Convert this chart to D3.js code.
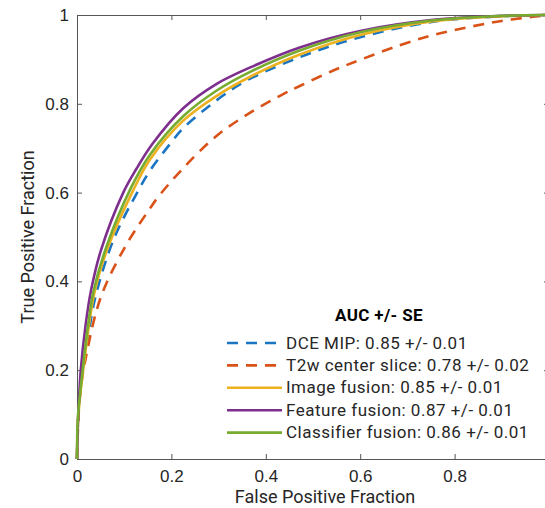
<!DOCTYPE html>
<html>
<head>
<meta charset="utf-8">
<script src="https://cdn.jsdelivr.net/npm/d3@7"></script>
<style>
  body { margin: 0; background: #fff; }
  svg { display: block; font-family: Roboto, "Noto Sans", sans-serif; }
</style>
</head>
<body>
<svg id="chart" width="545" height="508"></svg>
<script>
// ROC curves (fpr, tpr pairs)
const dceFpr  = [0, 0.003, 0.012, 0.025, 0.039, 0.077, 0.130, 0.155, 0.199, 0.225, 0.296, 0.355, 0.472, 0.6, 0.755, 0.896, 1];
const dceTpr  = [0, 0.10, 0.20, 0.285, 0.365, 0.493, 0.605, 0.650, 0.712, 0.745, 0.808, 0.850, 0.905, 0.950, 0.985, 0.997, 1];

const t2wFpr  = [0, 0.006, 0.019, 0.051, 0.102, 0.155, 0.174, 0.225, 0.296, 0.367, 0.437, 0.472, 0.543, 0.6, 0.684, 0.755, 0.826, 0.896, 0.966, 1];
const t2wTpr  = [0, 0.14, 0.23, 0.366, 0.478, 0.565, 0.593, 0.655, 0.728, 0.780, 0.822, 0.840, 0.875, 0.899, 0.932, 0.955, 0.972, 0.986, 0.996, 1];

const imgFpr  = [0, 0.003, 0.013, 0.037, 0.065, 0.119, 0.155, 0.225, 0.296, 0.367, 0.472, 0.6, 0.755, 0.896, 1];
const imgTpr  = [0, 0.10, 0.20, 0.375, 0.475, 0.605, 0.675, 0.762, 0.818, 0.861, 0.911, 0.955, 0.986, 0.997, 1];

const featFpr = [0, 0.002, 0.008, 0.018, 0.030, 0.051, 0.098, 0.125, 0.160, 0.225, 0.296, 0.367, 0.472, 0.6, 0.755, 0.896, 1];
const featTpr = [0, 0.08, 0.20, 0.30, 0.381, 0.471, 0.600, 0.652, 0.710, 0.790, 0.845, 0.882, 0.927, 0.964, 0.989, 0.998, 1];

const clfFpr  = [0, 0.002, 0.012, 0.022, 0.035, 0.063, 0.114, 0.155, 0.225, 0.296, 0.367, 0.472, 0.6, 0.755, 0.896, 1];
const clfTpr  = [0, 0.095, 0.20, 0.29, 0.378, 0.480, 0.610, 0.686, 0.772, 0.830, 0.872, 0.920, 0.961, 0.988, 0.998, 1];

const labels  = ['DCE MIP: 0.85 +/- 0.01', 'T2w center slice: 0.78 +/- 0.02', 'Image fusion: 0.85 +/- 0.01',
                 'Feature fusion: 0.87 +/- 0.01', 'Classifier fusion: 0.86 +/- 0.01'];
const ticks   = [0, 0.2, 0.4, 0.6, 0.8, 1];

const series = [
  { fpr: dceFpr,  tpr: dceTpr,  color: '#1a75c2', dash: '11,8' },
  { fpr: t2wFpr,  tpr: t2wTpr,  color: '#D95319', dash: '11,8' },
  { fpr: imgFpr,  tpr: imgTpr,  color: '#EDB120', dash: null },
  { fpr: featFpr, tpr: featTpr, color: '#7E2F8E', dash: null },
  { fpr: clfFpr,  tpr: clfTpr,  color: '#77AC30', dash: null }
].map((s, i) => ({ ...s, label: labels[i] }));

const svg = d3.select('#chart');
const m = { left: 77, right: 549, top: 15, bottom: 459 };
const w = m.right - m.left, h = m.bottom - m.top;

const x = d3.scaleLinear().domain([0, 1]).range([0, w]);
const y = d3.scaleLinear().domain([0, 1]).range([h, 0]);

const g = svg.append('g').attr('transform', `translate(${m.left},${m.top})`);

const axisCol = '#555', textCol = '#262626';
const fmt = d => d === 0 || d === 1 ? d3.format('d')(d) : d3.format('.1f')(d);

// bottom + left axes with labels, top + right mirrors without
const styleAxis = sel => {
  sel.select('.domain').attr('stroke', axisCol);
  sel.selectAll('.tick line').attr('stroke', axisCol);
  sel.selectAll('.tick text').attr('fill', textCol).attr('font-size', 17);
};
// the x label for 1 sits past the window edge, so it is left out
g.append('g').attr('transform', `translate(0,${h})`)
  .call(d3.axisBottom(x).tickValues(ticks).tickFormat(d => d === 1 ? '' : fmt(d))
    .tickSizeInner(-5).tickSizeOuter(0).tickPadding(11))
  .call(styleAxis);
g.append('g')
  .call(d3.axisLeft(y).tickValues(ticks).tickFormat(fmt).tickSizeInner(-5).tickSizeOuter(0).tickPadding(8))
  .call(styleAxis);
g.append('g')
  .call(d3.axisTop(x).tickValues(ticks).tickFormat('').tickSizeInner(-5).tickSizeOuter(0))
  .call(styleAxis);
g.append('g').attr('transform', `translate(${w},0)`)
  .call(d3.axisRight(y).tickValues(ticks).tickFormat('').tickSizeInner(-5).tickSizeOuter(0))
  .call(styleAxis);

// axis titles
g.append('text')
  .attr('x', w / 2 + 12).attr('y', h + 44)
  .attr('text-anchor', 'middle').attr('fill', textCol).attr('font-size', 18)
  .text('False Positive Fraction');
g.append('text')
  .attr('transform', 'rotate(-90)')
  .attr('x', -h / 2).attr('y', -m.left + 34)
  .attr('text-anchor', 'middle').attr('fill', textCol).attr('font-size', 18)
  .text('True Positive Fraction');

// curves
const line = d3.line()
  .x(d => x(d[0])).y(d => y(d[1]))
  .curve(d3.curveCatmullRom.alpha(0.5));

g.selectAll('path.roc')
  .data(series)
  .join('path')
  .attr('class', 'roc')
  .attr('d', s => line(d3.zip(s.fpr, s.tpr)))
  .attr('fill', 'none')
  .attr('stroke', s => s.color)
  .attr('stroke-width', 2.6)
  .attr('stroke-dasharray', s => s.dash);

// legend
const leg = svg.append('g').attr('transform', 'translate(227,343)');
leg.append('text')
  .attr('x', 152).attr('y', -22.5)
  .attr('text-anchor', 'middle').attr('font-weight', 'bold')
  .attr('fill', '#000').attr('font-size', 17).attr('letter-spacing', 0.35)
  .text('AUC +/- SE');
const rows = leg.selectAll('g.row')
  .data(series)
  .join('g')
  .attr('class', 'row')
  .attr('transform', (d, i) => `translate(0,${i * 22.4})`);
rows.append('line')
  .attr('x1', 0).attr('x2', 55)
  .attr('stroke', d => d.color).attr('stroke-width', 2.6)
  .attr('stroke-dasharray', d => d.dash);
rows.append('text')
  .attr('x', 59).attr('y', 5.5)
  .attr('fill', textCol).attr('font-size', 17).attr('letter-spacing', 0.5)
  .text(d => d.label);
</script>
</body>
</html>
